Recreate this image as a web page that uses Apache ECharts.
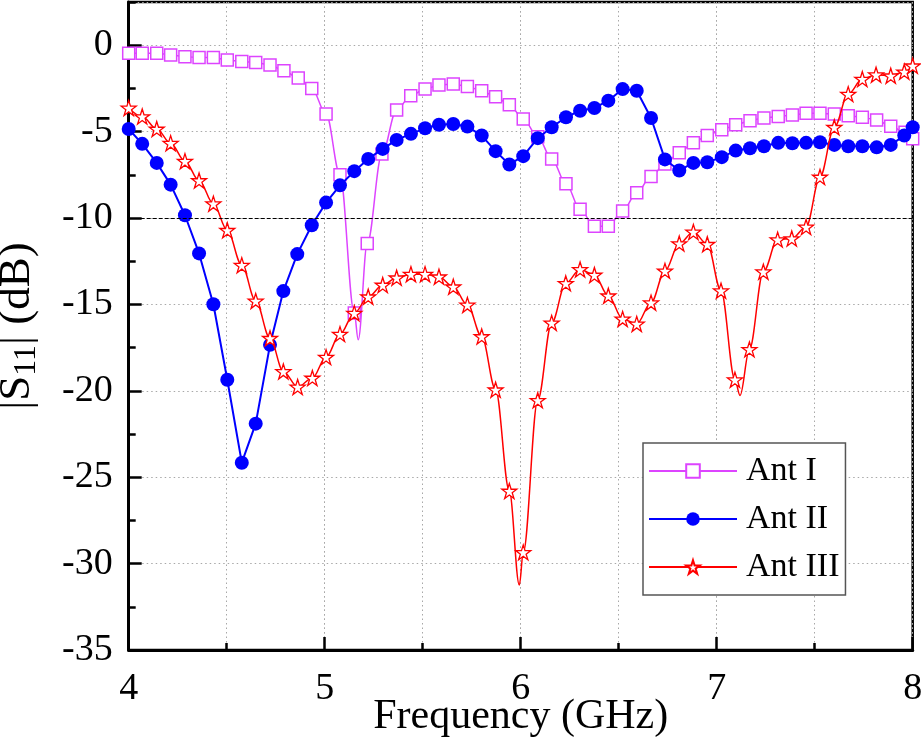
<!DOCTYPE html>
<html>
<head>
<meta charset="utf-8">
<script src="https://cdn.jsdelivr.net/npm/echarts@6/dist/echarts.min.js"></script>
<style>
html,body{margin:0;padding:0;background:#fff;}
#chart{width:921px;height:742px;}
</style>
</head>
<body>
<div id="chart"></div>
<script>
// ---- data ----
const seriesNames = ['Ant I', 'Ant II', 'Ant III'];
const xTicks = [4, 5, 6, 7, 8];
const yTicks = [0, -5, -10, -15, -20, -25, -30, -35];

const freqI = [4.0,4.069,4.143,4.214,4.287,4.359,4.432,4.503,4.577,4.648,4.721,4.792,4.865,4.934,5.007,5.078,5.151,5.171,5.217,5.292,5.367,5.439,5.512,5.583,5.656,5.728,5.801,5.872,5.942,6.013,6.087,6.158,6.231,6.303,6.376,6.447,6.520,6.592,6.665,6.736,6.809,6.881,6.952,7.026,7.097,7.170,7.241,7.314,7.386,7.456,7.527,7.600,7.671,7.743,7.816,7.888,7.961,8.0];
const antI  = [-0.46,-0.46,-0.46,-0.56,-0.67,-0.71,-0.71,-0.85,-0.94,-1.00,-1.14,-1.48,-1.90,-2.50,-3.98,-7.50,-15.5,-17.05,-11.48,-6.3,-3.75,-2.92,-2.54,-2.31,-2.25,-2.39,-2.64,-2.98,-3.44,-4.27,-5.3,-6.58,-8.02,-9.50,-10.48,-10.48,-9.60,-8.54,-7.60,-6.87,-6.23,-5.65,-5.23,-4.90,-4.61,-4.37,-4.21,-4.12,-4.04,-3.94,-3.94,-3.98,-4.08,-4.17,-4.33,-4.69,-5.04,-5.42];
const bareI = [5.171];

const freqII = [4.0,4.069,4.143,4.214,4.287,4.359,4.432,4.503,4.577,4.648,4.721,4.789,4.860,4.934,5.007,5.078,5.151,5.222,5.296,5.367,5.440,5.512,5.583,5.656,5.728,5.801,5.872,5.942,6.013,6.087,6.158,6.231,6.303,6.376,6.447,6.520,6.592,6.665,6.736,6.809,6.881,6.952,7.026,7.097,7.170,7.241,7.314,7.386,7.456,7.527,7.600,7.671,7.743,7.816,7.888,7.957,8.0];
const antII  = [-4.85,-5.71,-6.81,-8.07,-9.84,-12.05,-14.99,-19.36,-24.16,-21.90,-17.34,-14.23,-12.09,-10.42,-9.11,-8.11,-7.29,-6.58,-6.00,-5.48,-5.13,-4.81,-4.60,-4.56,-4.71,-5.23,-6.13,-6.90,-6.42,-5.38,-4.75,-4.17,-3.79,-3.63,-3.21,-2.54,-2.64,-4.21,-6.61,-7.25,-6.81,-6.77,-6.48,-6.10,-5.96,-5.85,-5.65,-5.67,-5.65,-5.62,-5.77,-5.85,-5.85,-5.91,-5.77,-5.23,-4.75];

const freqIII = [4.0,4.069,4.143,4.214,4.287,4.359,4.432,4.503,4.577,4.648,4.721,4.789,4.862,4.937,5.007,5.078,5.151,5.222,5.296,5.367,5.440,5.512,5.583,5.656,5.728,5.801,5.872,5.942,5.993,6.013,6.087,6.158,6.230,6.303,6.376,6.447,6.520,6.592,6.665,6.736,6.809,6.881,6.952,7.022,7.093,7.119,7.167,7.238,7.311,7.383,7.456,7.527,7.600,7.671,7.743,7.813,7.888,7.957,8.0];
const antIII  = [-3.63,-4.13,-4.85,-5.67,-6.71,-7.83,-9.17,-10.71,-12.73,-14.80,-16.96,-18.88,-19.78,-19.26,-18.05,-16.72,-15.51,-14.56,-13.88,-13.46,-13.25,-13.25,-13.40,-13.98,-15.03,-16.86,-19.94,-25.80,-31.24,-29.35,-20.55,-16.07,-13.78,-12.98,-13.30,-14.50,-15.84,-16.13,-14.90,-13.06,-11.48,-10.81,-11.52,-14.21,-19.36,-20.27,-17.60,-13.11,-11.25,-11.19,-10.52,-7.63,-4.75,-2.83,-1.96,-1.71,-1.77,-1.54,-1.19];
const bareIII = [5.993, 7.119];

const refLevel = -10;

// ---- build chart ----
const FONT = "'Liberation Serif', 'Times New Roman', serif";
const colI = '#dd44ff', colII = '#0000ff', colIII = '#ff0000';
const STAR = 'path://M50,2 L61.2,36.2 L97.5,36.2 L68.2,57.4 L79.4,91.6 L50,70.5 L20.6,91.6 L31.8,57.4 L2.5,36.2 L38.8,36.2 Z';
const GRIDLINE = { color: '#a8a8a8', type: [1.5, 3], width: 1 };

function build(fx, fy, bare) {
  return fx.map((x, i) => {
    const item = { value: [x, fy[i]] };
    if (bare && bare.indexOf(x) >= 0) item.symbol = 'none';
    return item;
  });
}

const chart = echarts.init(document.getElementById('chart'), null, { renderer: 'canvas' });

const axisLabelStyle = { fontFamily: FONT, fontSize: 38, color: '#000' };

const option = {
  animation: false,
  backgroundColor: '#fff',
  grid: { left: 128.7, right: 8.3, top: 2, bottom: 92, containLabel: false, outerBoundsMode: 'none', show: true, borderColor: '#000', borderWidth: 2.5, backgroundColor: 'transparent' },
  legend: {
    orient: 'vertical', left: 643, top: 443,
    data: seriesNames,
    itemWidth: 88, itemHeight: 17, itemGap: 8,
    padding: [8, 6, 8, 5],
    borderColor: '#555', borderWidth: 1.5, backgroundColor: '#fff',
    textStyle: { fontFamily: FONT, fontSize: 34, color: '#000', lineHeight: 40, padding: [0, 0, 0, 4] }
  },
  xAxis: [
    {
      type: 'value', min: 4, max: 8, interval: 1,
      name: 'Frequency (GHz)', nameLocation: 'middle', nameGap: 46, nameMoveOverlap: false,
      nameTextStyle: { fontFamily: FONT, fontSize: 42, color: '#000' },
      axisLine: { show: true, onZero: false, lineStyle: { color: '#000', width: 3 } },
      axisTick: { show: true, inside: true, length: 13, lineStyle: { color: '#000', width: 2.5 } },
      axisLabel: Object.assign({ margin: 20, formatter: v => (xTicks.indexOf(v) >= 0 ? String(v) : '') }, axisLabelStyle),
      splitLine: { show: true, lineStyle: GRIDLINE }
    },
    {
      type: 'value', min: 4, max: 8, interval: 0.5, position: 'bottom',
      axisLine: { show: false, onZero: false },
      axisTick: { show: true, inside: true, length: 7, lineStyle: { color: '#000', width: 2.5 } },
      axisLabel: { show: false },
      splitLine: { show: true, lineStyle: GRIDLINE }
    }
  ],
  yAxis: [
    {
      type: 'value', min: -35, max: 2.5, interval: 5,
      name: '{a||S}{b|11}{a|| (dB)}', nameLocation: 'middle', nameRotate: 90, nameGap: 86, nameMoveOverlap: false,
      nameTextStyle: {
        fontFamily: FONT, fontSize: 45, color: '#000',
        rich: {
          a: { fontFamily: FONT, fontSize: 45, color: '#000', lineHeight: 52 },
          b: { fontFamily: FONT, fontSize: 32, color: '#000', lineHeight: 26, verticalAlign: 'bottom' }
        }
      },
      axisLine: { show: true, onZero: false, lineStyle: { color: '#000', width: 3 } },
      axisTick: { show: true, inside: true, length: 13, lineStyle: { color: '#000', width: 2.5 } },
      axisLabel: Object.assign({ margin: 16, showMaxLabel: false, formatter: v => (yTicks.indexOf(v) >= 0 ? String(v) : '') }, axisLabelStyle),
      splitLine: { show: true, lineStyle: GRIDLINE }
    },
    {
      type: 'value', min: -35, max: 2.5, interval: 2.5, position: 'left',
      axisLine: { show: false, onZero: false },
      axisTick: { show: true, inside: true, length: 7, lineStyle: { color: '#000', width: 2.5 } },
      axisLabel: { show: false },
      splitLine: { show: false }
    }
  ],
  series: [
    {
      name: seriesNames[0], type: 'line', xAxisIndex: 0, yAxisIndex: 0,
      data: build(freqI, antI, bareI),
      smooth: 0.35, smoothMonotone: 'x',
      symbol: 'rect', symbolSize: 12, showAllSymbol: true,
      itemStyle: { color: '#fff', borderColor: colI, borderWidth: 1.5 },
      lineStyle: { color: colI, width: 1.5 },
      markLine: {
        silent: true, symbol: 'none', label: { show: false },
        lineStyle: { color: '#000', type: [4, 2], width: 1 },
        data: [{ yAxis: refLevel }]
      },
      z: 2
    },
    {
      name: seriesNames[1], type: 'line', xAxisIndex: 0, yAxisIndex: 0,
      data: build(freqII, antII, null),
      smooth: false,
      symbol: 'circle', symbolSize: 14, showAllSymbol: true,
      itemStyle: { color: colII, borderColor: colII, borderWidth: 0 },
      lineStyle: { color: colII, width: 2 },
      z: 3
    },
    {
      name: seriesNames[2], type: 'line', xAxisIndex: 0, yAxisIndex: 0,
      data: build(freqIII, antIII, bareIII),
      smooth: 0.35, smoothMonotone: 'x',
      symbol: STAR, symbolSize: 15, showAllSymbol: true,
      itemStyle: { color: '#fff', borderColor: colIII, borderWidth: 1.3 },
      lineStyle: { color: colIII, width: 1.5 },
      z: 4
    }
  ]
};
chart.setOption(option);
</script>
</body>
</html>
